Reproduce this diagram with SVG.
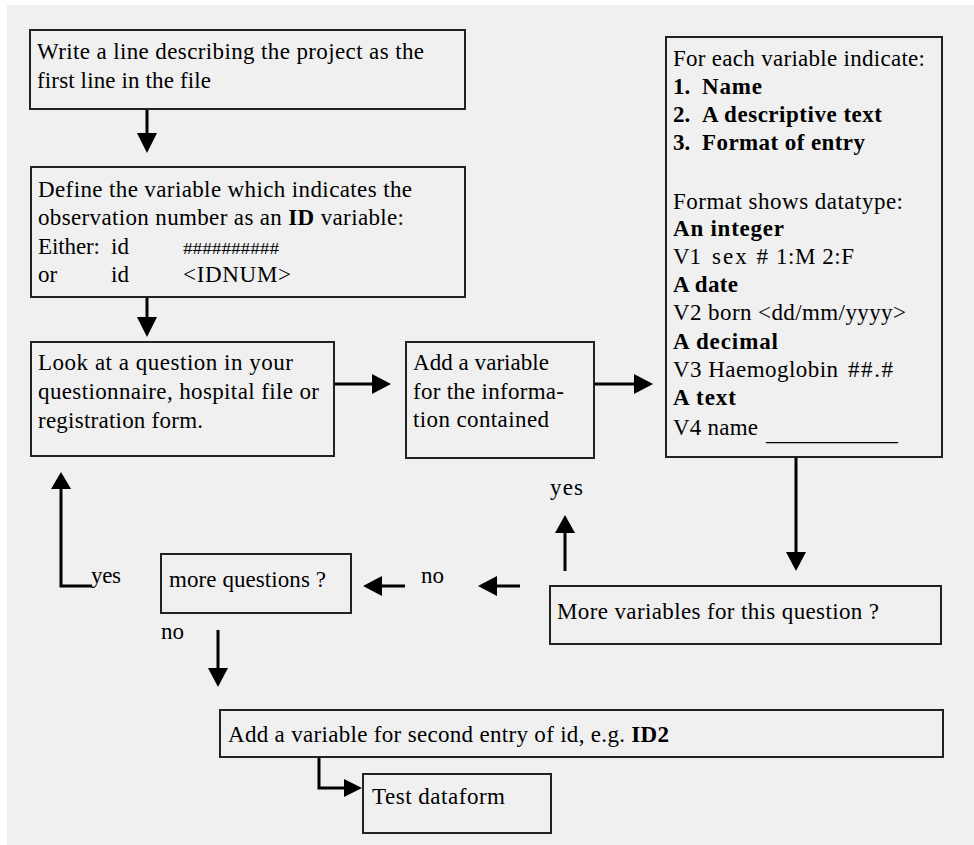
<svg xmlns="http://www.w3.org/2000/svg" width="974" height="845" viewBox="0 0 974 845">
<style>
.bg{fill:#f0f0f0}
.box{fill:none;stroke:#222;stroke-width:2}
.t{font-family:"Liberation Serif","Times New Roman",serif;font-size:23px;fill:#000;white-space:pre}
.b{font-weight:bold}
.ln{fill:none;stroke:#000;stroke-width:3}
.ah{fill:#000}
</style>
<rect x="0" y="0" width="974" height="845" fill="#ffffff"/>
<rect class="bg" x="7" y="5" width="967" height="840"/>

<g id="connectors">
  <line class="ln" x1="147" y1="110" x2="147" y2="135"/>
  <polygon class="ah" points="137,133 157,133 147,153"/>
  <line class="ln" x1="147" y1="297" x2="147" y2="319"/>
  <polygon class="ah" points="137,317 157,317 147,337"/>
  <line class="ln" x1="334" y1="384" x2="374" y2="384"/>
  <polygon class="ah" points="372,374 372,394 391,384"/>
  <line class="ln" x1="594" y1="384" x2="636" y2="384"/>
  <polygon class="ah" points="634,374 634,394 653,384"/>
  <line class="ln" x1="796" y1="457" x2="796" y2="554"/>
  <polygon class="ah" points="786,552 806,552 796,571"/>
  <line class="ln" x1="565" y1="571" x2="565" y2="531"/>
  <polygon class="ah" points="555,533 575,533 565,515"/>
  <line class="ln" x1="520" y1="586" x2="495" y2="586"/>
  <polygon class="ah" points="497,576 497,596 478,586"/>
  <line class="ln" x1="405" y1="586" x2="380" y2="586"/>
  <polygon class="ah" points="382,576 382,596 363,586"/>
  <polyline class="ln" points="92,586 61,586 61,487"/>
  <polygon class="ah" points="51,489 71,489 61,472"/>
  <line class="ln" x1="218" y1="630" x2="218" y2="670"/>
  <polygon class="ah" points="208,668 228,668 218,687"/>
  <polyline class="ln" points="319,757 319,788 346,788"/>
  <polygon class="ah" points="344,779 344,797 362,788"/>
</g>

<g id="n1">
  <rect class="box" x="30" y="30" width="435" height="79"/>
  <text class="t" x="37" y="59" textLength="387" lengthAdjust="spacing">Write a line describing the project as the</text>
  <text class="t" x="37" y="88" textLength="174" lengthAdjust="spacing">first line in the file</text>
</g>

<g id="n2">
  <rect class="box" x="31" y="167" width="434" height="130"/>
  <text class="t" x="38" y="197" textLength="374" lengthAdjust="spacing">Define the variable which indicates the</text>
  <text class="t" x="38" y="225" textLength="366" lengthAdjust="spacing">observation number as an <tspan class="b">ID</tspan> variable:</text>
  <text class="t" x="38" y="254" textLength="62" lengthAdjust="spacing">Either:</text>
  <text class="t" x="111" y="254">id</text>
  <text class="t" x="183" y="254" style="font-size:17px" textLength="96" lengthAdjust="spacingAndGlyphs">##########</text>
  <text class="t" x="38" y="282">or</text>
  <text class="t" x="111" y="282">id</text>
  <text class="t" x="183" y="282" textLength="108" lengthAdjust="spacing">&lt;IDNUM&gt;</text>
</g>

<g id="n3">
  <rect class="box" x="31" y="342" width="303" height="114"/>
  <text class="t" x="38" y="370" textLength="255" lengthAdjust="spacing">Look at a question in your</text>
  <text class="t" x="38" y="399" textLength="281" lengthAdjust="spacing">questionnaire, hospital file or</text>
  <text class="t" x="38" y="428" textLength="165" lengthAdjust="spacing">registration form.</text>
</g>

<g id="n4">
  <rect class="box" x="406" y="342" width="188" height="116"/>
  <text class="t" x="413" y="370" textLength="136" lengthAdjust="spacing">Add a variable</text>
  <text class="t" x="413" y="399" textLength="151" lengthAdjust="spacing">for the informa-</text>
  <text class="t" x="413" y="427" textLength="136" lengthAdjust="spacing">tion contained</text>
</g>

<g id="n5">
  <rect class="box" x="666" y="37" width="276" height="420"/>
  <text class="t" x="673" y="66" textLength="252" lengthAdjust="spacing">For each variable indicate:</text>
  <text class="t b" x="673" y="94">1.</text>
  <text class="t b" x="702" y="94" textLength="60" lengthAdjust="spacing">Name</text>
  <text class="t b" x="673" y="122">2.</text>
  <text class="t b" x="702" y="122" textLength="180" lengthAdjust="spacing">A descriptive text</text>
  <text class="t b" x="673" y="150">3.</text>
  <text class="t b" x="702" y="150" textLength="163" lengthAdjust="spacing">Format of entry</text>
  <text class="t" x="673" y="209" textLength="230" lengthAdjust="spacing">Format shows datatype:</text>
  <text class="t b" x="673" y="236" textLength="111" lengthAdjust="spacing">An integer</text>
  <text class="t" x="673" y="264">V1</text>
  <text class="t" x="712" y="264" textLength="56" lengthAdjust="spacing">sex #</text>
  <text class="t" x="776" y="264" textLength="78" lengthAdjust="spacing">1:M 2:F</text>
  <text class="t b" x="673" y="292" textLength="65" lengthAdjust="spacing">A date</text>
  <text class="t" x="673" y="320" textLength="233" lengthAdjust="spacing">V2 born &lt;dd/mm/yyyy&gt;</text>
  <text class="t b" x="673" y="349" textLength="105" lengthAdjust="spacing">A decimal</text>
  <text class="t" x="673" y="377" textLength="165" lengthAdjust="spacing">V3 Haemoglobin</text>
  <text class="t" x="848" y="377" textLength="45" lengthAdjust="spacing">##.#</text>
  <text class="t b" x="673" y="405" textLength="63" lengthAdjust="spacing">A text</text>
  <text class="t" x="673" y="435" textLength="85" lengthAdjust="spacing">V4 name</text>
  <text class="t" x="766" y="440" textLength="132" lengthAdjust="spacingAndGlyphs">_____________</text>
</g>

<g id="n6">
  <rect class="box" x="161" y="554" width="190" height="59"/>
  <text class="t" x="169" y="587" textLength="157" lengthAdjust="spacing">more questions ?</text>
</g>

<g id="n7">
  <rect class="box" x="550" y="586" width="391" height="58"/>
  <text class="t" x="557" y="619" textLength="322" lengthAdjust="spacing">More variables for this question ?</text>
</g>

<g id="n8">
  <rect class="box" x="220" y="710" width="723" height="47"/>
  <text class="t" x="228" y="742" textLength="441" lengthAdjust="spacing">Add a variable for second entry of id, e.g. <tspan class="b">ID2</tspan></text>
</g>

<g id="n9">
  <rect class="box" x="363" y="774" width="188" height="59"/>
  <text class="t" x="372" y="804" textLength="133" lengthAdjust="spacing">Test dataform</text>
</g>

<g id="labels">
  <text class="t" x="91" y="583" textLength="30" lengthAdjust="spacing">yes</text>
  <text class="t" x="421" y="583" textLength="23" lengthAdjust="spacing">no</text>
  <text class="t" x="550" y="495" textLength="33" lengthAdjust="spacing">yes</text>
  <text class="t" x="161" y="639" textLength="23" lengthAdjust="spacing">no</text>
</g>
</svg>
